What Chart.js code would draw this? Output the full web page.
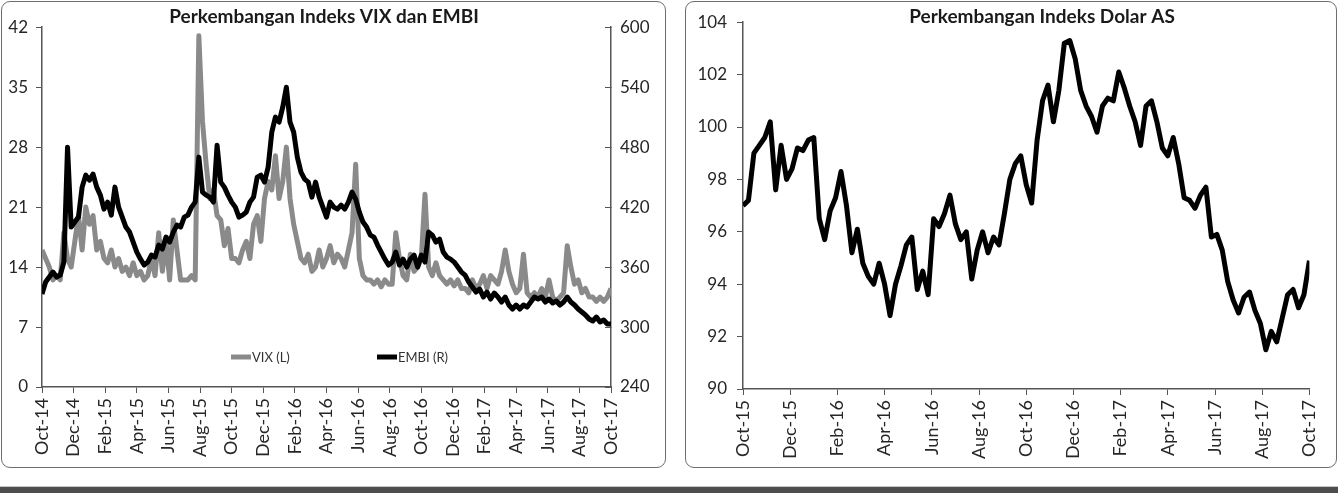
<!DOCTYPE html>
<html>
<head>
<meta charset="utf-8">
<script src="https://cdn.jsdelivr.net/npm/chart.js@4.4.1/dist/chart.umd.min.js"></script>
<style>
body { margin: 0; width: 1338px; height: 493px; background: #fff; position: relative; overflow: hidden; font-family: Lato, sans-serif; }
.panel { position: absolute; border: 1.5px solid #6e6e6e; border-radius: 9px; box-sizing: border-box; }
.wrap { position: absolute; }
#bar { position: absolute; left: 0; top: 486px; width: 1338px; height: 7px; background: #4d4d4d; border-top: 1px solid #c8c8c8; }
</style>
</head>
<body>
<div class="panel" style="left:1px;top:1px;width:665px;height:467px"></div>
<div class="panel" style="left:685px;top:1px;width:652px;height:467px"></div>
<div class="wrap" style="left:2px;top:2px;width:662px;height:464px"><canvas id="left"></canvas></div>
<div class="wrap" style="left:688px;top:2px;width:648px;height:464px"><canvas id="right"></canvas></div>
<div id="bar"></div>
<script>
// tick labels, one every two months
const leftTicks = ['Oct-14', 'Dec-14', 'Feb-15', 'Apr-15', 'Jun-15', 'Aug-15', 'Oct-15', 'Dec-15', 'Feb-16', 'Apr-16',
    'Jun-16', 'Aug-16', 'Oct-16', 'Dec-16', 'Feb-17', 'Apr-17', 'Jun-17', 'Aug-17', 'Oct-17']
const rightTicks = ['Oct-15', 'Dec-15', 'Feb-16', 'Apr-16', 'Jun-16', 'Aug-16', 'Oct-16', 'Dec-16', 'Feb-17', 'Apr-17',
    'Jun-17', 'Aug-17', 'Oct-17']

// weekly readings, Oct-14 .. Oct-17
const vix = [16, 15, 14, 12.5, 13, 12.5, 18, 15, 14, 17,
    20, 16, 21, 19, 20, 16, 17, 15, 14.5, 16,
    14, 15, 13.5, 14, 13, 14.5, 13, 13.5, 12.5, 13,
    15, 13, 18, 13.5, 17, 12.5, 19.5, 16, 12.5, 12.5,
    12.5, 13, 12.5, 41, 31, 26, 22, 23, 20, 19.5,
    16.5, 18.5, 15, 15, 14.5, 16, 17, 15, 19, 20,
    17, 22, 24, 23, 27, 22, 24, 28, 22, 19,
    17, 15, 14.5, 15.5, 13.5, 14, 16, 14, 15, 16.5,
    14.5, 15.5, 15, 14, 16, 18, 26, 15, 13, 12.5,
    12.5, 12, 12.5, 11.7, 12.5, 12, 12, 18, 15, 13,
    12.5, 15.5, 13.5, 14, 15, 22.5, 14, 13, 14.5, 13,
    12.5, 12, 12.5, 11.8, 12.5, 11.5, 11.5, 11, 12.5, 11.5,
    12, 13, 11.5, 13, 12.5, 12, 13.5, 16, 13.5, 12,
    11, 11.5, 15.5, 11, 10.5, 11, 10.5, 11.5, 10.5, 12.5,
    10.5, 10, 10.5, 11, 16.5, 14, 12, 12.5, 11, 11.5,
    10.5, 10.5, 10, 10.5, 10, 10.5, 11.5]

const embi = [333, 345, 350, 355, 350, 352, 365, 480, 400, 405,
    410, 440, 452, 447, 453, 440, 432, 418, 425, 412,
    440, 420, 410, 400, 395, 385, 375, 368, 362, 365,
    372, 370, 382, 378, 390, 385, 395, 402, 400, 410,
    412, 420, 425, 470, 435, 432, 430, 425, 482, 445,
    440, 432, 425, 420, 410, 412, 415, 425, 430, 450,
    452, 445, 460, 495, 510, 505, 520, 540, 505, 495,
    470, 455, 448, 445, 430, 445, 430, 420, 410, 425,
    420, 418, 422, 418, 425, 435, 428, 415, 405, 400,
    392, 390, 382, 375, 368, 362, 365, 375, 362, 368,
    360, 368, 372, 360, 372, 365, 395, 392, 385, 388,
    375, 370, 368, 365, 360, 355, 352, 345, 340, 335,
    338, 330, 335, 328, 334, 330, 325, 330, 322, 318,
    322, 318, 322, 320, 325, 330, 328, 330, 325, 328,
    324, 326, 322, 325, 330, 325, 322, 318, 315, 312,
    308, 306, 310, 305, 307, 303, 303]

// weekly readings, Oct-15 .. Oct-17
const dollar = [97.0, 97.2, 99.0, 99.3, 99.6, 100.2, 97.6, 99.3, 98.0, 98.4,
    99.2, 99.1, 99.5, 99.6, 96.5, 95.7, 96.8, 97.3, 98.3, 97.0,
    95.2, 96.1, 94.8, 94.3, 94.0, 94.8, 94.0, 92.8, 94.0, 94.7,
    95.5, 95.8, 93.8, 94.5, 93.6, 96.5, 96.2, 96.7, 97.4, 96.3,
    95.7, 96.0, 94.2, 95.3, 96.0, 95.2, 95.8, 95.5, 96.7, 98.0,
    98.6, 98.9, 97.8, 97.1, 99.5, 101.0, 101.6, 100.2, 101.4, 103.2,
    103.3, 102.6, 101.4, 100.8, 100.4, 99.8, 100.8, 101.1, 101.0, 102.1,
    101.5, 100.8, 100.2, 99.3, 100.8, 101.0, 100.2, 99.2, 98.9, 99.6,
    98.6, 97.3, 97.2, 96.9, 97.4, 97.7, 95.8, 95.9, 95.3, 94.1,
    93.4, 92.9, 93.5, 93.7, 93.0, 92.5, 91.5, 92.2, 91.8, 92.7,
    93.6, 93.8, 93.1, 93.6, 94.9]

// x in months from the first tick
const weekly = arr => arr.map((v, i) => ({ x: i * 12 / 52, y: v }))

const tickFont = { family: 'Lato', size: 17 }
const xTickFont = { family: 'Lato', size: 18 }
const tickColor = '#262626'
const axisColor = '#555'

const panelText = {
    id: 'panelText',
    afterDraw(chart, args, opts) {
        const ctx = chart.ctx
        ctx.save()
        ctx.font = 'bold 19px Lato'
        ctx.fillStyle = '#1a1a1a'
        ctx.textAlign = 'center'
        ctx.textBaseline = 'middle'
        ctx.fillText(opts.title, opts.titleX, opts.titleY)
        const items = opts.legend || []
        items.forEach(item => {
            const ds = chart.data.datasets[item.index]
            ctx.strokeStyle = ds.borderColor
            ctx.lineWidth = 5
            ctx.beginPath()
            ctx.moveTo(item.x, item.y)
            ctx.lineTo(item.x + 20, item.y)
            ctx.stroke()
            ctx.font = '13px Lato'
            ctx.fillStyle = '#333'
            ctx.textAlign = 'left'
            ctx.fillText(ds.label, item.x + 21, item.y + 1)
        })
        ctx.restore()
    }
}

function xScale(max, labels, height) {
    return {
        type: 'linear',
        position: 'bottom',
        min: 0,
        max: max,
        ticks: {
            stepSize: 2,
            autoSkip: false,
            minRotation: 90,
            maxRotation: 90,
            padding: 5,
            font: xTickFont,
            color: tickColor,
            callback: v => labels[Math.round(v / 2)]
        },
        grid: { drawOnChartArea: false, tickLength: 6, color: axisColor },
        border: { color: axisColor, width: 1.5 },
        afterFit: s => { s.height = height }
    }
}

new Chart(document.getElementById('left'), {
    type: 'line',
    data: {
        datasets: [
            { label: 'VIX (L)', data: weekly(vix), yAxisID: 'y', borderColor: '#8a8a8a', borderWidth: 5, order: 2 },
            { label: 'EMBI (R)', data: weekly(embi), yAxisID: 'y2', borderColor: '#000', borderWidth: 5, order: 1 }
        ]
    },
    options: {
        responsive: true,
        maintainAspectRatio: false,
        animation: false,
        devicePixelRatio: 1,
        layout: { padding: { top: 20, left: 0, right: 0, bottom: 0 } },
        elements: { point: { radius: 0 }, line: { tension: 0, borderJoinStyle: 'round' } },
        plugins: {
            legend: { display: false },
            tooltip: { enabled: false },
            panelText: {
                title: 'Perkembangan Indeks VIX dan EMBI', titleX: 322, titleY: 15,
                legend: [{ index: 0, x: 229, y: 355 }, { index: 1, x: 375, y: 355 }]
            }
        },
        scales: {
            x: xScale(36, leftTicks, 79),
            y: {
                position: 'left', min: 0, max: 42,
                ticks: { stepSize: 7, padding: 8, font: tickFont, color: tickColor },
                grid: { drawOnChartArea: false, tickLength: 6, color: axisColor },
                border: { color: axisColor, width: 1.5 },
                afterFit: s => { s.width = 40 }
            },
            y2: {
                position: 'right', min: 240, max: 600,
                ticks: { stepSize: 60, padding: 15, font: tickFont, color: tickColor },
                grid: { drawOnChartArea: false, tickLength: -6, color: axisColor },
                border: { color: axisColor, width: 1.5 },
                afterFit: s => { s.width = 53 }
            }
        }
    },
    plugins: [panelText]
})

new Chart(document.getElementById('right'), {
    type: 'line',
    data: {
        datasets: [
            { label: 'Indeks Dolar AS', data: weekly(dollar), borderColor: '#000', borderWidth: 5 }
        ]
    },
    options: {
        responsive: true,
        maintainAspectRatio: false,
        animation: false,
        devicePixelRatio: 1,
        layout: { padding: { top: 18, left: 0, right: 6, bottom: 0 } },
        elements: { point: { radius: 0 }, line: { tension: 0, borderJoinStyle: 'round' } },
        plugins: {
            legend: { display: false },
            tooltip: { enabled: false },
            panelText: { title: 'Perkembangan Indeks Dolar AS', titleX: 354, titleY: 15 }
        },
        scales: {
            x: xScale(24, rightTicks, 77),
            y: {
                position: 'left', min: 90, max: 104,
                ticks: { stepSize: 2, padding: 10, font: tickFont, color: tickColor },
                grid: { drawOnChartArea: false, tickLength: 6, color: axisColor },
                border: { color: axisColor, width: 1.5 },
                afterFit: s => { s.width = 55 }
            }
        }
    },
    plugins: [panelText]
})
</script>
</body>
</html>
